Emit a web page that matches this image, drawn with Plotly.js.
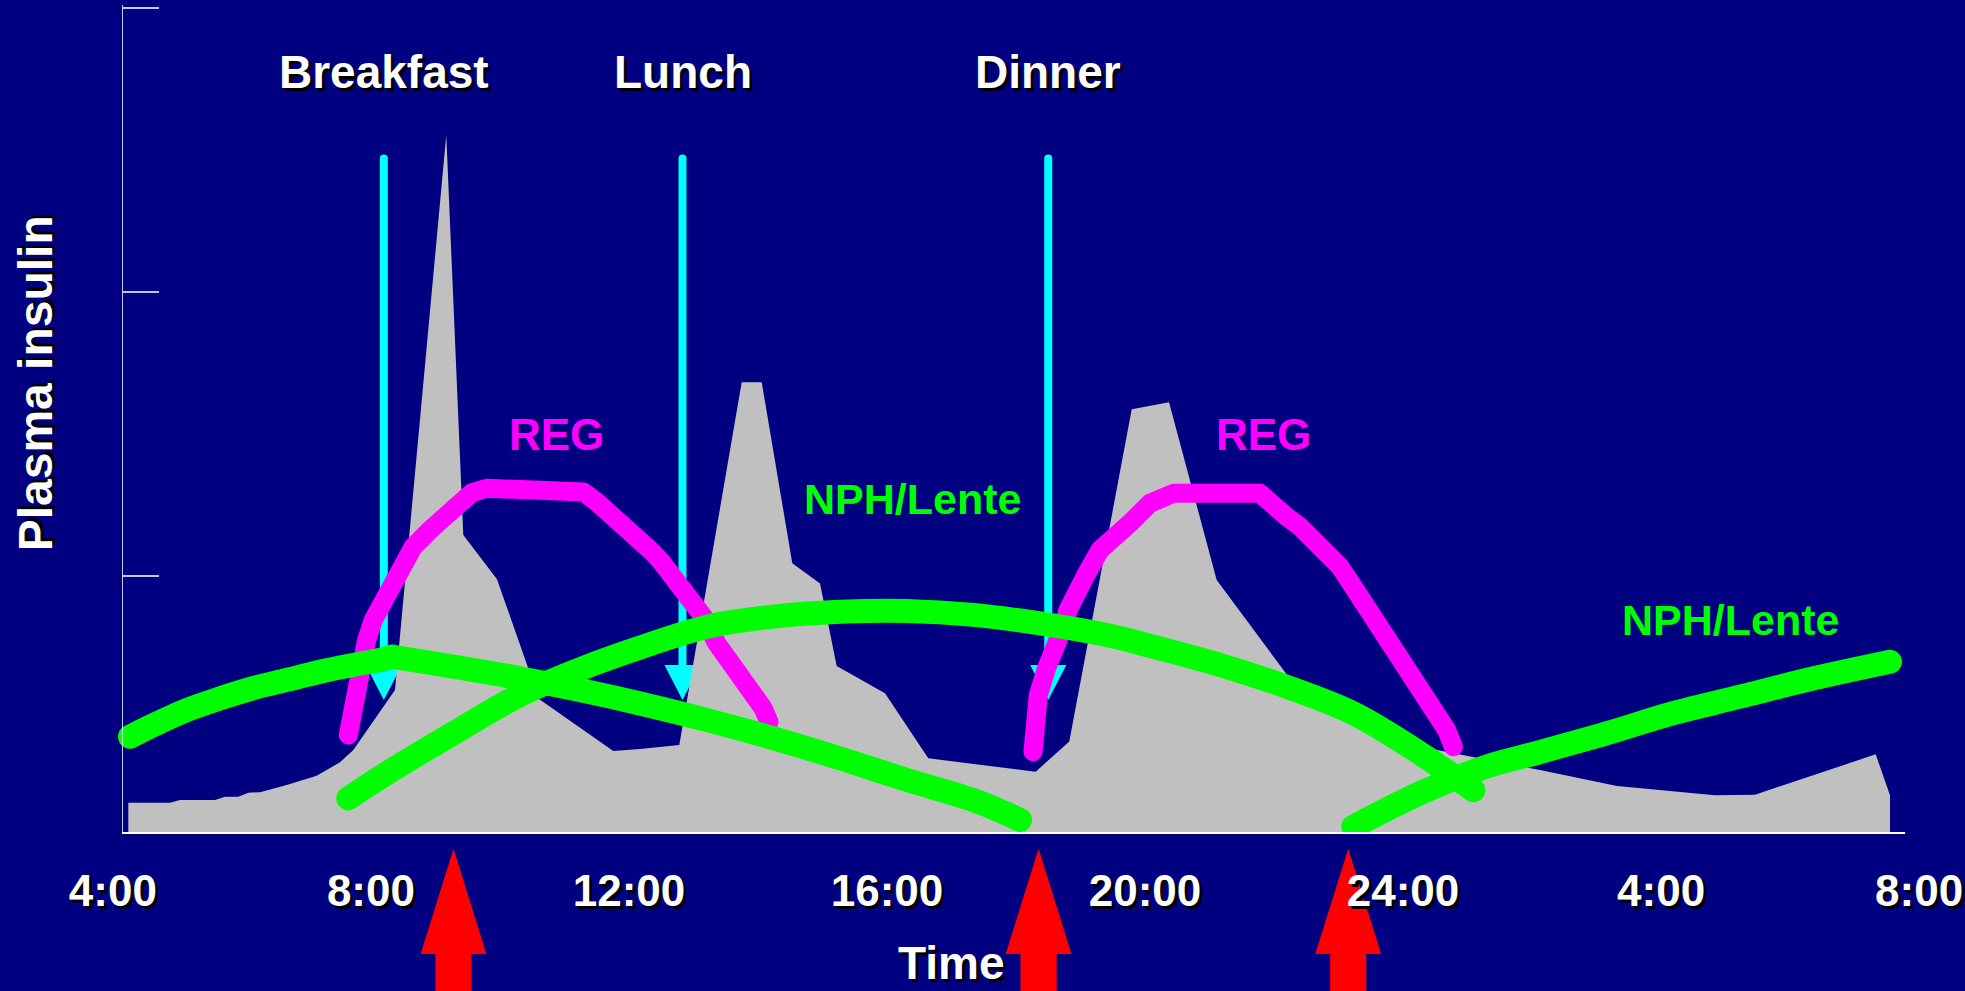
<!DOCTYPE html>
<html>
<head>
<meta charset="utf-8">
<script src="https://cdn.plot.ly/plotly-3.0.1.min.js"></script>
<style>
  html, body { margin: 0; padding: 0; background: #000080; }
  #chart { width: 1965px; height: 991px; }
  /* thick hand-drawn looking strokes with rounded ends */
  #chart .js-line { stroke-linecap: round; stroke-linejoin: round; }
</style>
</head>
<body>
<div id="chart"></div>
<script>
// ---- axis ticks (time of day in hours; 28 and 32 are the next morning) ----
const tickHours  = [4, 8, 12, 16, 20, 24, 28, 32];
const tickLabels = ['4:00', '8:00', '12:00', '16:00', '20:00', '24:00', '4:00', '8:00'];

// ---- meals and insulin injections ----
const mealNames      = ['Breakfast', 'Lunch', 'Dinner'];
const mealTimes      = [8.2, 12.83, 18.5];
const injectionTimes = [9.28, 18.35, 23.15];

// ---- normal (physiological) plasma insulin profile ----
const normalTime = [4.239, 4.885, 5.040, 5.583, 5.738, 5.944, 6.099, 6.280, 6.694, 7.159,
                    7.521, 7.727, 8.373, 9.168, 9.432, 9.954, 10.606, 11.757, 12.171, 12.780,
                    13.748, 14.058, 14.532, 14.962, 15.220, 15.969, 16.640, 18.305, 18.826, 19.794,
                    20.372, 21.111, 22.299, 22.604, 24.527, 26.123, 27.317, 28.836, 29.456, 31.327,
                    31.549];
const normalInsulin = [0.202, 0.202, 0.211, 0.211, 0.223, 0.223, 0.237, 0.239, 0.264, 0.297,
                       0.344, 0.387, 0.599, 2.553, 1.144, 0.989, 0.567, 0.384, 0.391, 0.405,
                       1.682, 1.682, 1.045, 0.974, 0.683, 0.587, 0.358, 0.311, 0.417, 1.587,
                       1.612, 0.986, 0.622, 0.546, 0.387, 0.317, 0.261, 0.228, 0.230, 0.372,
                       0.228];

// ---- regular insulin, morning dose ----
const reg1Time  = [7.649, 7.727, 7.831, 7.934, 8.037, 8.192, 8.399, 8.657, 8.916, 9.175,
                   9.432, 9.562, 9.795, 11.190, 11.293, 11.499, 11.756, 11.911, 12.119, 12.326,
                   12.481, 12.687, 12.946, 13.152, 13.360, 13.566, 13.721, 13.927, 14.082, 14.171];
const reg1Level = [0.440, 0.563, 0.681, 0.775, 0.845, 0.915, 1.021, 1.103, 1.162, 1.221,
                   1.279, 1.293, 1.309, 1.309, 1.296, 1.261, 1.215, 1.186, 1.150, 1.092,
                   1.056, 0.993, 0.915, 0.857, 0.763, 0.704, 0.645, 0.575, 0.534, 0.486];

// ---- regular insulin, evening dose ----
const reg2Time  = [18.263, 18.310, 18.346, 18.475, 18.620, 18.733, 18.806, 18.966, 19.095, 19.302,
                   19.508, 19.767, 20.077, 20.232, 20.438, 21.782, 21.989, 22.194, 22.402, 22.609,
                   22.816, 23.022, 23.228, 23.435, 23.643, 23.849, 24.055, 24.263, 24.469, 24.676,
                   24.779];
const reg2Level = [0.381, 0.505, 0.581, 0.676, 0.746, 0.821, 0.880, 0.968, 1.009, 1.092,
                   1.127, 1.186, 1.256, 1.268, 1.291, 1.291, 1.244, 1.209, 1.174, 1.127,
                   1.080, 1.033, 0.962, 0.892, 0.821, 0.751, 0.681, 0.610, 0.528, 0.458,
                   0.399];

// ---- intermediate-acting (NPH/Lente) insulin curves ----
// overnight dose, still rising in the early morning
const nphEarlyTime  = [4.265, 4.626, 5.144, 5.660, 6.176, 6.694, 7.210, 7.727, 8.192, 8.327];
const nphEarlyLevel = [0.434, 0.475, 0.528, 0.569, 0.605, 0.634, 0.663, 0.687, 0.707, 0.716];
// ... and its decline through the day
const nphFallTime   = [8.327, 9.277, 10.311, 11.345, 12.171, 13.205, 14.237, 15.271, 16.305, 17.338, 18.062];
const nphFallLevel  = [0.716, 0.681, 0.640, 0.593, 0.551, 0.493, 0.429, 0.358, 0.282, 0.211, 0.141];

// morning dose
const nphDayTime  = [7.649, 8.243, 9.277, 10.311, 11.345, 12.171, 13.205, 14.237, 15.271, 16.305,
                     17.338, 18.372, 19.406, 20.127, 21.162, 22.195, 23.228, 24.263, 25.089];
const nphDayLevel = [0.217, 0.305, 0.446, 0.581, 0.681, 0.748, 0.821, 0.857, 0.874, 0.877,
                     0.863, 0.833, 0.792, 0.751, 0.687, 0.610, 0.517, 0.376, 0.246];

// bedtime dose
const nphNightTime  = [23.228, 24.263, 25.296, 26.123, 27.157, 28.190, 29.223, 30.257, 31.548];
const nphNightLevel = [0.117, 0.235, 0.329, 0.380, 0.446, 0.517, 0.575, 0.634, 0.698];

// ---- styling ----
const NAVY = '#000080';
const CYAN = '#00FFFF', GREY = '#C0C0C0', MAGENTA = '#FF00FF', GREEN = '#00FF00', RED = '#FF0000';
const FONT = '"Liberation Sans", Arial, Helvetica, sans-serif';
const SHADOW = '3px 3px 0px #000000';
const AXIS_COLOR = 'rgba(230,230,255,0.85)';

// meal arrow geometry, in axis units
const mealLineTop = 2.47, mealHeadTop = 0.687, mealHeadTip = 0.563, mealHeadHalf = 0.28;

const base = { mode: 'lines', hoverinfo: 'skip', showlegend: false };
const traces = [];

// cyan meal arrows (drawn first so the insulin profile sits over them)
mealTimes.forEach(t => {
  traces.push(Object.assign({}, base, {
    x: [t, t], y: [mealLineTop, mealHeadTop],
    line: { color: CYAN, width: 8 }
  }));
  traces.push(Object.assign({}, base, {
    x: [t - mealHeadHalf, t + mealHeadHalf, t, t - mealHeadHalf],
    y: [mealHeadTop, mealHeadTop, mealHeadTip, mealHeadTop],
    fill: 'toself', fillcolor: CYAN, line: { width: 0, color: CYAN }
  }));
});

// normal insulin secretion
traces.push(Object.assign({}, base, {
  x: normalTime, y: normalInsulin,
  fill: 'tozeroy', fillcolor: GREY, line: { width: 0, color: GREY }
}));

// regular insulin
[[reg1Time, reg1Level], [reg2Time, reg2Level]].forEach(([x, y]) => {
  traces.push(Object.assign({}, base, { x, y, line: { color: MAGENTA, width: 19 } }));
});

// NPH / Lente
[[nphEarlyTime, nphEarlyLevel], [nphFallTime, nphFallLevel],
 [nphDayTime, nphDayLevel], [nphNightTime, nphNightLevel]].forEach(([x, y]) => {
  traces.push(Object.assign({}, base, {
    x, y, line: { color: GREEN, width: 24, shape: 'spline', smoothing: 1 }
  }));
});

// red injection arrows below the time axis
const arrowTip = -0.019, arrowBase = -0.146, arrowEnd = -0.22, headHalf = 0.51, shaftHalf = 0.28;
const shapes = injectionTimes.map(t => ({
  type: 'path', xref: 'x', yref: 'paper', layer: 'below',
  path: `M${t},${arrowTip} L${t + headHalf},${arrowBase} L${t + shaftHalf},${arrowBase} ` +
        `L${t + shaftHalf},${arrowEnd} L${t - shaftHalf},${arrowEnd} L${t - shaftHalf},${arrowBase} ` +
        `L${t - headHalf},${arrowBase} Z`,
  fillcolor: RED, line: { width: 0 }
}));

// time axis baseline, starting at the insulin axis
shapes.push({
  type: 'line', xref: 'paper', yref: 'paper', x0: 0.012, x1: 0.9853, y0: 0, y1: 0,
  line: { color: '#FFFFFF', width: 2 }, layer: 'above'
});

const whiteFont = (size) => ({ family: FONT, size, color: '#FFFFFF', weight: 700, shadow: SHADOW });

const annotations = [];
mealNames.forEach((name, i) => {
  annotations.push({
    text: name, x: mealTimes[i], y: 2.775, xref: 'x', yref: 'y',
    showarrow: false, xanchor: 'center', yanchor: 'middle', font: whiteFont(46)
  });
});
[[10.87, 1.5], [21.84, 1.5]].forEach(([x, y]) => {
  annotations.push({
    text: 'REG', x, y, xref: 'x', yref: 'y', showarrow: false,
    font: { family: FONT, size: 44, color: MAGENTA, weight: 700 }
  });
});
[[16.4, 1.27], [29.07, 0.845]].forEach(([x, y]) => {
  annotations.push({
    text: 'NPH/Lente', x, y, xref: 'x', yref: 'y', showarrow: false,
    font: { family: FONT, size: 43, color: GREEN, weight: 700 }
  });
});
annotations.push({
  text: 'Time', x: 0.465, y: -0.157, xref: 'paper', yref: 'paper',
  showarrow: false, xanchor: 'center', yanchor: 'middle', font: whiteFont(46)
});
annotations.push({
  text: 'Plasma insulin', x: -0.0355, y: 0.543, xref: 'paper', yref: 'paper',
  textangle: -90, showarrow: false, xanchor: 'center', yanchor: 'middle', font: whiteFont(48)
});

const layout = {
  width: 1965, height: 991,
  paper_bgcolor: NAVY, plot_bgcolor: NAVY,
  margin: { l: 100, r: 33, t: 5, b: 158 },
  showlegend: false,
  hovermode: false,
  xaxis: {
    range: [3.8, 32.2], showgrid: false, zeroline: false, showline: false,
    ticks: '', tickmode: 'array', tickvals: tickHours, ticktext: tickLabels,
    tickfont: whiteFont(44), ticklabelstandoff: 28, fixedrange: true
  },
  yaxis: {
    range: [0.0951, 3.0106], anchor: 'free', position: 0.012,
    showgrid: false, zeroline: false, showline: true,
    linecolor: AXIS_COLOR, linewidth: 1.5,
    ticks: 'inside', ticklen: 36, tickwidth: 1.5, tickcolor: AXIS_COLOR,
    tickmode: 'array', tickvals: [1, 2, 3], showticklabels: false, fixedrange: true
  },
  shapes, annotations
};

Plotly.newPlot('chart', traces, layout, { displayModeBar: false, staticPlot: true });
</script>
</body>
</html>
